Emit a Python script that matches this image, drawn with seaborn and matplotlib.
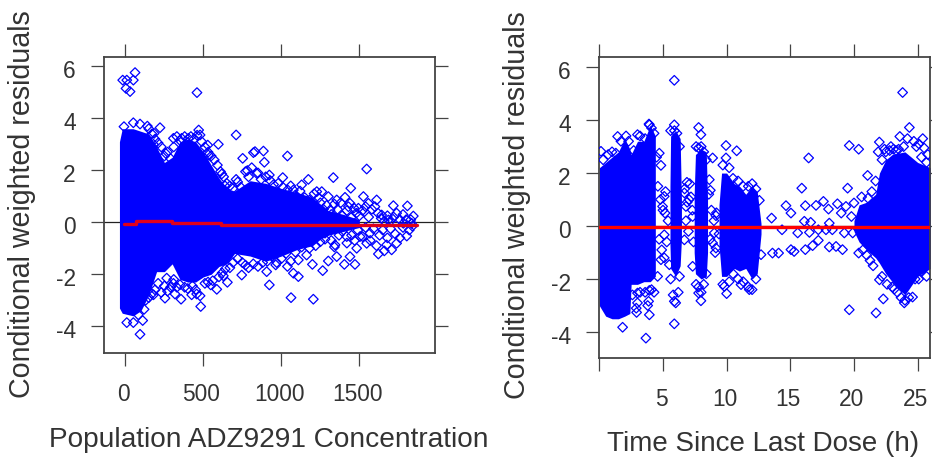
import matplotlib
matplotlib.use("Agg")
import matplotlib.pyplot as plt
from matplotlib.transforms import ScaledTranslation
import seaborn as sns

sns.set_theme(style="white")
plt.rcParams["font.family"] = ["Liberation Sans", "DejaVu Sans"]
plt.rcParams["axes.unicode_minus"] = False

Y_LABEL = "Conditional weighted residuals"
X_LABEL_LEFT = "Population ADZ9291 Concentration"
X_LABEL_RIGHT = "Time Since Last Dose (h)"

Y_TICKS = [-4, -2, 0, 2, 4, 6]
LEFT_X_TICKS = [0, 500, 1000, 1500]
RIGHT_X_TICKS = [0, 5, 10, 15, 20, 25]
RIGHT_X_LABELS = ["", "5", "10", "15", "20", "25"]

# Solid (fully overplotted) region of the left panel, read as an envelope
left_env_x = [-38, -20, 50, 100, 150, 200, 250, 300, 350, 400, 450, 500, 550, 600, 650, 700,
              800, 900, 1000, 1100, 1200, 1250, 1300, 1400, 1500]
left_env_hi = [3.1, 3.6, 3.6, 3.5, 3.4, 2.9, 2.3, 2.5, 3.1, 3.2, 3.1, 2.7, 2.2, 1.7, 1.3, 1.2,
               1.6, 1.5, 1.3, 1.15, 0.95, 0.7, 0.45, 0.3, 0.1]
left_env_lo = [-3.3, -3.5, -3.6, -3.4, -2.8, -1.9, -1.9, -1.6, -2.2, -2.3, -2.3, -2.1, -2.0, -1.7,
               -1.6, -1.2, -1.3, -1.5, -1.3, -1.05, -0.9, -0.65, -0.5, -0.35, -0.2]

# Individually visible points, left panel
left_x = [-17, 9, 62, 51, 4, 30, 459,
          -9, 51, 94, 141, 222, 184, 180, 259, 200, 308, 361, 404, 470, 479, 528, 596, 532, 500, 618,
          639, 710, 752, 821, 831, 885, 891, 782, 842, 710, 923, 1009, 1039, 1173, 1130, 1077, 1333,
          1547, 1445, 1227, 1259, 1301, 1355, 1408, 1526, 1611, 1558, 1718, 1808, 1846, 1739, 1643,
          1440, 1494, 1312, 1205, 1162, 1686, 1782, 1835,
          9, 51, 111, 94, 120, 83, 180, 254, 318, 357, 265, 308, 425, 457, 479, 483, 586, 547, 628, 654,
          746, 923, 906, 964, 1039, 1062, 1205, 1077, 1109, 1109, 1162, 1199, 1265, 1301, 1355, 1404,
          1472, 1440, 1344, 1419, 1483, 1547, 1622, 1707, 1739, 1804, 1675, 1568, 1504, 1280,
          1250, 1270, 1290, 1320, 1340, 1360, 1380, 1390, 1420, 1430, 1450, 1465, 1480, 1500, 1520,
          1540, 1560, 1580, 1600, 1620, 1640, 1660, 1680, 1700, 1720, 1760, 1780, 1800, 1830,
          1280, 1300, 1320, 1340, 1370, 1390, 1420, 1450, 1470, 1490, 1520, 1540, 1570, 1590, 1610,
          1630, 1650, 1660, 1680, 1700, 1730, 1760, 1780, 1820, 1840]
left_y = [5.47, 5.47, 5.76, 5.47, 5.15, 5.03, 4.99,
          3.68, 3.83, 3.78, 3.70, 3.64, 3.42, 3.00, 2.65, 2.27, 3.23, 3.23, 3.23, 3.55, 3.36, 2.97, 3.00, 2.59, 2.27, 1.86,
          1.40, 3.36, 2.46, 2.68, 2.72, 2.74, 2.31, 1.99, 1.88, 1.65, 1.82, 1.72, 2.55, 1.65, 1.44, 1.24, 1.72,
          2.05, 1.31, 1.18, 1.18, 0.99, 0.86, 0.96, 0.99, 0.86, 0.73, 0.64, 0.63, 0.24, 0.35, 0.28,
          0.73, 0.54, 0.47, 0.60, 0.73, 0.09, -0.04, -0.04,
          -3.86, -3.86, -3.78, -4.31, -3.35, -3.56, -2.79, -2.92, -2.76, -2.96, -2.15, -2.35, -2.79, -2.76, -2.83, -3.24, -2.58, -2.41, -2.06, -2.31,
          -2.03, -2.41, -1.90, -1.64, -1.70, -2.90, -2.96, -1.96, -2.09, -1.45, -1.26, -1.62, -1.86, -1.49, -1.32, -1.62,
          -1.62, -1.32, -0.87, -0.55, -1.00, -0.81, -1.22, -1.06, -0.81, -0.53, -0.87, -0.42, -0.55, -0.42,
          0.75, 0.50, 0.65, 0.30, 0.70, 0.50, 0.75, 0.25, 0.45, 0.60, 0.20, 0.55, 0.35, 0.25, 0.45,
          0.60, 0.20, 0.50, 0.60, 0.35, 0.15, 0.05, 0.25, 0.05, 0.20, 0.10, 0.30, 0.10, 0.10,
          -0.65, -0.30, -0.70, -0.95, -0.50, -0.35, -0.80, -0.50, -0.70, -0.30, -0.55, -0.20, -0.70, -0.25, -0.90,
          -0.50, -0.30, -1.10, -0.60, -0.25, -0.45, -0.60, -0.20, -0.30, -0.15]

# Points along the blob's upper and lower edges, left panel
left_upper_x = [150, 170, 190, 210, 230, 250, 270, 290, 310, 330, 350, 380, 420, 440, 460, 490, 510, 530, 550, 570,
                590, 610, 630, 650, 670, 690, 720, 740, 770, 790, 810, 850, 870, 900, 930, 950, 980, 1010, 1040,
                1060, 1090, 1120, 1150, 1180, 1210, 1240]
left_upper_y = [3.6, 3.4, 3.2, 3.05, 2.9, 2.55, 2.7, 2.45, 2.9, 3.3, 3.15, 3.3, 3.3, 3.2, 3.35, 3.1, 2.9, 2.7, 2.55, 2.4,
                2.2, 1.95, 1.75, 1.5, 1.4, 1.3, 1.55, 1.35, 1.95, 1.75, 2.1, 1.9, 1.65, 1.75, 1.6, 1.45, 1.5, 1.35, 1.25,
                1.4, 1.05, 1.2, 0.95, 0.85, 1.1, 0.95]
left_lower_x = [130, 150, 170, 190, 210, 230, 250, 270, 290, 310, 330, 350, 380, 400, 430, 450, 510, 530, 560, 600,
                620, 640, 670, 690, 720, 750, 770, 790, 820, 850, 880, 910, 940, 970, 1000, 1030, 1060, 1090, 1130,
                1180, 1220, 1250]
left_lower_y = [-3.0, -2.9, -2.75, -2.6, -2.35, -2.7, -2.45, -2.65, -2.5, -2.2, -2.5, -2.4, -2.5, -2.55, -2.45, -2.6,
                -2.35, -2.3, -2.25, -2.1, -1.95, -1.8, -1.75, -1.55, -1.4, -1.55, -1.65, -1.75, -1.6, -1.7, -1.55, -1.5,
                -1.3, -1.55, -1.4, -1.2, -1.5, -1.15, -0.95, -1.0, -0.9, -0.75]

left_trend_x = [-10, 70, 300, 610, 1870]
left_trend_y = [-0.05, 0.04, -0.04, -0.09, -0.09]

# Solid bands of the right panel, read as envelopes
band_a_x = [0, 0.5, 1, 1.5, 2, 2.4, 2.5, 3, 3.5, 4, 4.4]
band_a_hi = [2.2, 2.4, 2.6, 2.8, 3.3, 2.9, 2.7, 3.2, 3.2, 3.8, 3.4]
band_a_lo = [-3.0, -3.4, -3.5, -3.5, -3.4, -3.3, -2.2, -2.2, -2.1, -2.1, -1.9]
band_b_x = [5.55, 5.6, 6.0, 6.35, 6.45]
band_b_hi = [1.5, 3.4, 3.6, 3.3, 1.0]
band_b_lo = [-0.7, -1.6, -1.9, -1.5, -0.5]
band_c_x = [7.45, 7.55, 8.0, 8.4, 8.5]
band_c_hi = [1.2, 2.7, 2.9, 2.8, 1.0]
band_c_lo = [-1.0, -1.8, -2.0, -1.9, -1.0]
band_d_x = [9.4, 9.6, 10, 10.6, 11, 11.5, 12, 12.4, 12.7]
band_d_hi = [0.8, 2.0, 2.0, 1.6, 1.5, 1.2, 1.5, 1.3, 0.1]
band_d_lo = [-0.7, -1.9, -1.9, -1.6, -1.7, -1.6, -2.0, -1.8, -0.3]
band_e_x = [20.0, 20.4, 21, 21.7, 22, 22.5, 23, 24, 25, 26]
band_e_hi = [0.2, 0.8, 0.9, 1.2, 2.0, 2.5, 2.7, 2.8, 2.4, 2.2]
band_e_lo = [-0.2, -0.6, -0.9, -1.2, -1.4, -1.8, -2.1, -2.6, -1.9, -1.6]

# Individually visible points, right panel
right_x = [5.89, 23.82, 5.89, 7.80, 7.98, 9.95, 10.79, 9.95, 8.90, 16.44, 19.63, 20.37, 21.99, 24.35, 23.60,
           15.90, 19.50, 21.07, 14.66, 16.18, 17.02, 17.60, 18.00, 18.70, 12.57, 15.05, 13.53, 14.35, 15.58, 16.50,
           12.70, 13.60, 14.08, 15.05, 15.30, 16.18, 16.75, 17.20, 18.06, 18.59, 19.10, 20.37, 21.26, 19.63, 21.73,
           22.30, 22.00, 24.60, 23.95, 25.08, 23.17, 5.89, 3.66, 1.83, 3.93, 2.93, 3.00, 3.93, 3.87, 5.89, 7.98, 7.80,
           10.00, 9.82, 11.78, 11.13, 1.44, 0.13, 3.00, 3.93, 4.71, 4.84,
           5.10, 4.97, 5.16, 4.84, 5.50, 4.58, 5.10, 6.88, 6.68, 6.80, 6.68, 7.33, 7.33, 7.05, 8.64, 8.72, 9.16, 9.03,
           8.90, 9.16, 16.10, 16.60, 17.20, 17.80, 18.30, 18.06, 19.00, 19.37, 20.00, 19.24, 19.90, 20.40, 19.80,
           21.90, 22.40, 22.90, 23.30, 24.70, 25.10, 25.50, 25.80, 25.40]
right_y = [5.50, 5.04, 3.82, 3.72, 3.45, 3.04, 2.84, 2.57, 2.57, 2.57, 3.04, 2.90, 3.17, 3.72, 3.38,
           1.43, 1.43, 1.91, 0.77, 0.77, 0.78, 0.93, 0.64, 0.84, 0.97, 0.49, 0.30, -0.14, -0.26, -0.24,
           -1.08, -1.02, -1.02, -0.89, -0.96, -0.89, -0.74, -0.54, -0.79, -0.77, -0.89, -1.02, -1.30, -3.16, -3.28,
           -2.75, -2.03, -2.68, -2.90, -2.00, -2.38, -3.69, -4.23, -3.82, -3.35, -3.26, -2.53, -2.43, -2.84, -2.84, -2.82, -2.53,
           -2.55, -2.28, -2.40, -2.21, 3.38, 2.82, 3.45, 3.82, 2.75, 2.29,
           1.12, 0.74, 0.49, -1.27, -1.46, -1.90, -0.33, 1.65, 1.25, 0.74, -0.52, -1.52, 0.36, 1.00, 1.75, 1.35, 0.39, -0.26,
           -0.64, -0.83, 0.18, 0.14, -0.14, -0.14, -0.14, 0.11, 0.49, 0.74, 0.87, -0.26, -0.26, -0.14, 0.36,
           2.80, 2.90, 3.00, 2.85, 3.20, 3.10, 2.95, 2.70, 3.30]

# Points along the bands' edges and in the gaps between them, right panel
right_edge_x = [0.3, 0.7, 1.0, 1.3, 1.7, 2.1, 2.3, 2.7, 3.2, 3.6, 3.9, 4.1, 4.3, 4.5,
                2.6, 2.9, 3.0, 3.2, 3.6, 3.8, 4.1, 4.3,
                5.6, 5.8, 6.0, 6.2, 6.3, 5.6, 5.9, 6.1, 6.3,
                7.6, 7.8, 8.0, 8.2, 8.4, 7.6, 7.8, 8.0, 8.2, 8.4,
                9.7, 10.2, 10.5, 10.9, 11.3, 11.7, 12.0, 12.3, 9.7, 10.2, 10.5, 10.9, 11.3, 11.7, 12.0, 12.3,
                4.6, 4.8, 5.0, 5.2, 5.4, 4.7, 4.9, 5.1, 5.3,
                6.7, 6.9, 7.1, 7.3, 6.8, 7.0, 7.2, 7.4,
                8.6, 8.8, 9.0, 9.2, 9.4, 8.7, 9.1,
                20.6, 21.1, 21.4, 21.7, 22.2, 22.5, 22.8, 23.1, 23.5, 23.9, 24.2, 24.9, 25.3, 25.7,
                20.7, 21.0, 21.5, 22.2, 22.6, 23.0, 23.4, 23.7, 24.0, 24.3, 24.8, 25.3, 25.7]
right_edge_y = [2.5, 2.7, 2.8, 2.75, 3.2, 3.4, 3.2, 2.85, 3.4, 3.3, 3.85, 3.7, 3.5, 2.6,
                -2.6, -3.1, -2.9, -2.5, -2.5, -3.0, -2.4, -2.5,
                -2.0, -2.6, -2.9, -2.5, -1.9, 3.6, 3.6, 3.5, 3.0,
                3.0, 2.95, 3.0, 2.8, 2.5, -2.2, -2.3, -2.5, -2.2, -1.8,
                2.3, 2.2, 1.8, 1.7, 1.5, 1.5, 1.6, 1.4, -2.2, -2.1, -1.8, -2.0, -2.1, -2.3, -2.4, -2.0,
                1.5, 1.0, 0.6, 1.3, 0.2, -0.5, -0.9, -1.2, -0.6,
                1.4, 0.9, 1.6, 0.6, 0.2, -0.2, 1.1, -0.6,
                1.2, 0.6, 0.2, 0.5, -0.3, -0.5, -1.0,
                1.1, 1.05, 1.3, 1.7, 2.5, 2.8, 2.85, 2.9, 2.9, 3.0, 3.3, 3.0, 2.6, 2.4,
                -0.9, -1.1, -1.5, -1.9, -2.2, -2.3, -2.5, -2.7, -2.8, -2.7, -2.0, -1.7, -1.9]

right_trend_x = [0, 26]
right_trend_y = [-0.04, -0.04]

W, H = 932, 461
BLUE = "#0000FF"
FRAME = "#444444"
TEXT = "#333333"

fig = plt.figure(figsize=(W / 100, H / 100), dpi=100)


def make_axes(x0, x1, y0, y1):
    return fig.add_axes([x0 / W, 1 - y1 / H, (x1 - x0) / W, (y1 - y0) / H])


def points(ax, xs, ys):
    sns.scatterplot(x=xs, y=ys, ax=ax, marker="D", s=24, facecolor="none",
                    edgecolor=BLUE, linewidth=0.9, zorder=3, legend=False)


def style(ax, xticks, xlabels, xlim, ylim):
    ax.set_xlim(*xlim)
    ax.set_ylim(*ylim)
    ax.set_xticks(xticks)
    ax.set_xticklabels(xlabels)
    ax.set_yticks(Y_TICKS)
    ax.set_yticklabels([str(v) for v in Y_TICKS])
    ax.tick_params(axis="both", which="major", length=9.4, width=0.9, color=FRAME, labelcolor=TEXT,
                   labelsize=16.4, top=True, right=True, bottom=True, left=True, direction="out")
    ax.tick_params(axis="x", pad=12)
    ax.tick_params(axis="y", pad=11)
    for s in ax.spines.values():
        s.set_visible(True)
        s.set_color(FRAME)
        s.set_linewidth(1.3)
    for lab in ax.get_yticklabels():
        lab.set_transform(lab.get_transform() + ScaledTranslation(0, -3 / 100, fig.dpi_scale_trans))
    for lab in ax.get_xticklabels():
        lab.set_transform(lab.get_transform() + ScaledTranslation(-2 / 100, 0, fig.dpi_scale_trans))


# Left panel
ax1 = make_axes(104, 435, 57, 353)
ax1.axhline(0, color="#222222", lw=0.9, zorder=1)
ax1.fill_between(left_env_x, left_env_lo, left_env_hi, color=BLUE, lw=0, zorder=2)
points(ax1, left_x, left_y)
points(ax1, left_upper_x, left_upper_y)
points(ax1, left_lower_x, left_lower_y)
sns.lineplot(x=left_trend_x, y=left_trend_y, ax=ax1, color="#E0001A", lw=2.4, drawstyle="steps-post",
             estimator=None, zorder=4, legend=False)
style(ax1, LEFT_X_TICKS, [str(v) for v in LEFT_X_TICKS], (-137, 1985), (-5.03, 6.36))

# Right panel
ax2 = make_axes(599.3, 930, 57, 358)
ax2.axhline(0, color="#222222", lw=0.9, zorder=1)
for bx, blo, bhi in [(band_a_x, band_a_lo, band_a_hi), (band_b_x, band_b_lo, band_b_hi),
                     (band_c_x, band_c_lo, band_c_hi), (band_d_x, band_d_lo, band_d_hi),
                     (band_e_x, band_e_lo, band_e_hi)]:
    ax2.fill_between(bx, blo, bhi, color=BLUE, lw=0, zorder=2)
points(ax2, right_x, right_y)
points(ax2, right_edge_x, right_edge_y)
sns.lineplot(x=right_trend_x, y=right_trend_y, ax=ax2, color="#FF0000", lw=2.4, estimator=None,
             zorder=4, legend=False)
style(ax2, RIGHT_X_TICKS, RIGHT_X_LABELS, (0, 25.97), (-4.98, 6.38))

# Axis titles placed at the reference's pixel positions
fig.text(22 / W, 1 - 204 / H, Y_LABEL, rotation=90, ha="center", va="center", fontsize=20.6, color=TEXT)
fig.text(517 / W, 1 - 205 / H, Y_LABEL, rotation=90, ha="center", va="center", fontsize=20.6, color=TEXT)
fig.text(269 / W, 1 - 440 / H, X_LABEL_LEFT, ha="center", va="center", fontsize=20.2, color=TEXT)
fig.text(763 / W, 1 - 444 / H, X_LABEL_RIGHT, ha="center", va="center", fontsize=20, color=TEXT)

fig.savefig("out.png", dpi=100, facecolor="white")
